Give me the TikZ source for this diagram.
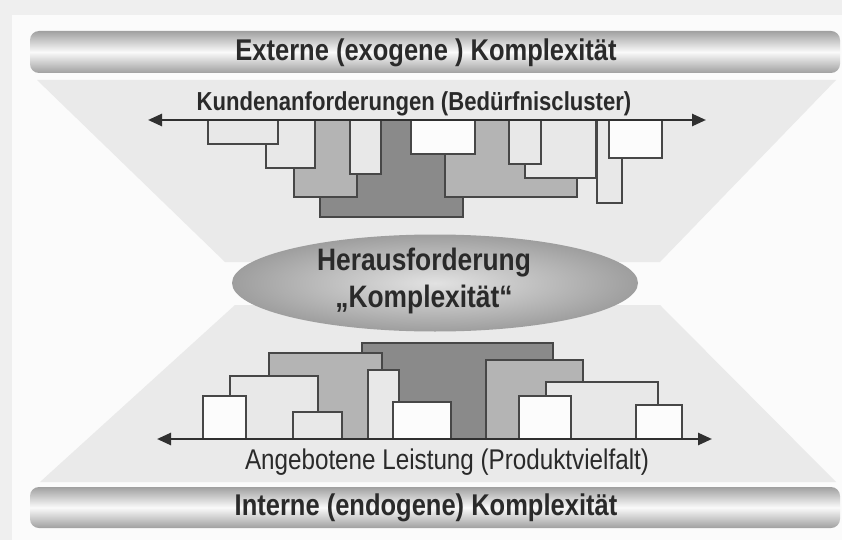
\documentclass[tikz,border=0pt]{standalone}
\usepackage{fontspec}
\setmainfont{Liberation Sans}
\newfontfamily\cond[FakeStretch=0.85]{Liberation Sans}
\usetikzlibrary{arrows.meta,shapes.geometric}

\definecolor{pagegrey}{HTML}{EFEFEF}
\definecolor{sheet}{HTML}{FBFBFB}
\definecolor{glass}{HTML}{EAEAEA}
\definecolor{bandedge}{HTML}{A0A0A0}
\definecolor{bandmid}{HTML}{FAFAFA}
\definecolor{ovalin}{HTML}{E2E2E2}
\definecolor{ovalout}{HTML}{9E9E9E}
\definecolor{edge}{HTML}{474747}
\definecolor{axiscol}{HTML}{303030}
\definecolor{txt}{HTML}{2A2A2A}
\definecolor{dkfill}{HTML}{8A8A8A}
\definecolor{mdfill}{HTML}{B4B4B4}
\definecolor{ltfill}{HTML}{E8E8E8}
\definecolor{wtfill}{HTML}{FCFCFC}

\tikzset{
  band/.style={rounded corners=9pt, top color=bandedge, bottom color=bandedge,
    middle color=bandmid, minimum width=810pt, inner sep=0pt},
  headline/.style={font=\cond\bfseries\fontsize{30}{34}\selectfont, text=txt, inner sep=0pt},
  axislabel/.style={text=txt, inner sep=0pt},
  axis/.style={{Triangle[length=14pt,width=12pt]}-{Triangle[length=14pt,width=12pt]},
    line width=2.6pt, draw=axiscol},
  blk/.style={draw=edge, line width=1.5pt},
  dk/.style={blk, fill=dkfill},
  md/.style={blk, fill=mdfill},
  lt/.style={blk, fill=ltfill},
  wt/.style={blk, fill=wtfill},
}

\begin{document}
\begin{tikzpicture}[x=1pt,y=-1pt]
\useasboundingbox (0,0) rectangle (842,540);
% page and sheet
\fill[pagegrey] (0,0) rectangle (842,540);
\fill[sheet] (12,15) rectangle (842,540);

% hourglass background
\fill[glass] (37,80) -- (836,80) -- (660,262) -- (225,262) -- cycle;
\fill[glass] (40,482) -- (836,482) -- (660,305) -- (235,305) -- cycle;

% bands
\node[band, minimum height=42pt] (topband) at (435,52) {};
\node[headline] (ext) at (426,53) {Externe (exogene ) Komplexität};
\node[band, minimum height=41pt] (botband) at (435,507.5) {};
\node[headline] (int) at (426,508) {Interne (endogene) Komplexität};

% central oval
\node[ellipse, minimum width=406pt, minimum height=97pt, inner color=ovalin,
      outer color=ovalout] (chal) at (435,283) {};
\node[headline, align=center, font=\cond\bfseries\fontsize{31}{37}\selectfont]
  (chaltxt) at (424,281) {Herausforderung\\„Komplexität“};

% customer requirement clusters (hanging from the upper axis)
\draw[dk] (320,120) rectangle (463,217);
\draw[md] (294,120) rectangle (357,197);
\draw[md] (445,120) rectangle (577,197);
\draw[lt] (266,120) rectangle (315,168);
\draw[lt] (208,120) rectangle (278,144);
\draw[lt] (350,120) rectangle (381,174);
\draw[wt] (411,120) rectangle (475,154);
\draw[lt] (525,120) rectangle (596,178);
\draw[lt] (509,120) rectangle (541,164);
\draw[lt] (597,120) rectangle (622,203);
\draw[wt] (609,120) rectangle (662,158);

% offered products (standing on the lower axis)
\draw[dk] (362,439) rectangle (553,343);
\draw[md] (269,439) rectangle (382,353);
\draw[md] (486,439) rectangle (583,360);
\draw[lt] (230,439) rectangle (318,376);
\draw[lt] (546,439) rectangle (658,382);
\draw[lt] (368,439) rectangle (399,370);
\draw[wt] (203,439) rectangle (246,396);
\draw[lt] (293,439) rectangle (342,412);
\draw[wt] (393,439) rectangle (451,402);
\draw[wt] (519,439) rectangle (571,396);
\draw[wt] (636,439) rectangle (682,405);

% axes
\coordinate (kl) at (148,120);
\coordinate (kr) at (706,120);
\draw[axis] (kl) -- (kr);
\coordinate (al) at (157,439);
\coordinate (ar) at (712,439);
\draw[axis] (al) -- (ar);

% axis labels
\node[axislabel, font=\cond\bfseries\fontsize{26}{30}\selectfont]
  (kunden) at (414,104) {Kundenanforderungen (Bedürfniscluster)};
\node[axislabel, font=\cond\fontsize{28.5}{32}\selectfont]
  (angebot) at (447,462) {Angebotene Leistung (Produktvielfalt)};
\end{tikzpicture}
\end{document}
